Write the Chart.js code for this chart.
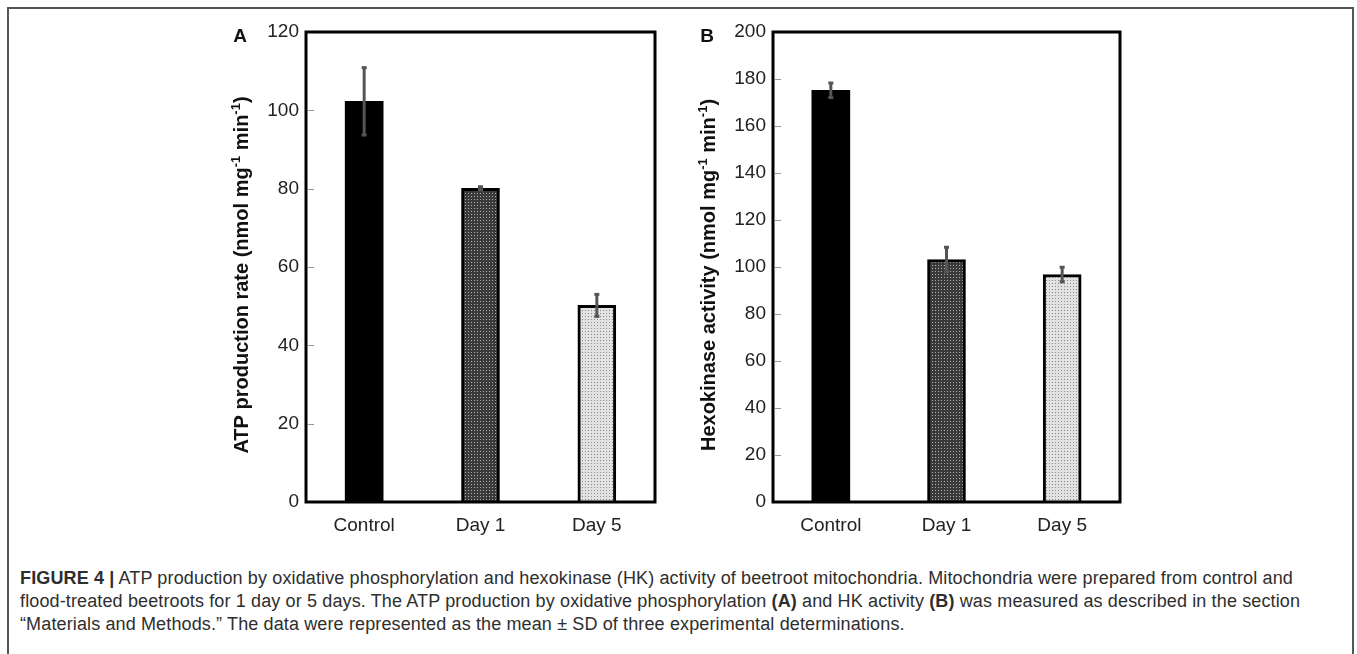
<!DOCTYPE html>
<html lang="en">
<head>
<meta charset="UTF-8">
<title>Figure 4</title>
<script src="https://cdn.jsdelivr.net/npm/chart.js"></script>
<style>
  body { margin: 0; background: #fff; width: 1357px; height: 654px; overflow: hidden; position: relative;
         font-family: "Liberation Sans", Arial, sans-serif; }
  #frame { position: absolute; left: 7px; top: 7px; width: 1347px; height: 700px; border: 2px solid #555; box-sizing: border-box; }
  .panel { position: absolute; top: 0; height: 545px; }
  #caption { position: absolute; left: 20px; top: 567px; font-size: 18px; letter-spacing: 0.13px; line-height: 23px; color: #2e2e2e; white-space: nowrap; }
</style>
</head>
<body>
<div id="frame"></div>
<div class="panel" style="left:200px;width:470px"><canvas id="chartA"></canvas></div>
<div class="panel" style="left:667px;width:468px"><canvas id="chartB"></canvas></div>
<div id="caption"><b>FIGURE 4 |</b> ATP production by oxidative phosphorylation and hexokinase (HK) activity of beetroot mitochondria. Mitochondria were prepared from control and<br>flood-treated beetroots for 1 day or 5 days. The ATP production by oxidative phosphorylation <b>(A)</b> and HK activity <b>(B)</b> was measured as described in the section<br>&ldquo;Materials and Methods.&rdquo; The data were represented as the mean &plusmn; SD of three experimental determinations.</div>

<script>
    const categories = ['Control', 'Day 1', 'Day 5'];

    // panel A: ATP production rate
    const atpMean = [102.3, 80.1, 50.2];
    const atpSD = [8.6, 0.4, 2.8];
    const atpMax = 120;

    // panel B: hexokinase activity
    const hkMean = [175.2, 103.2, 96.8];
    const hkSD = [3.1, 5.2, 3.1];
    const hkMax = 200;

    const tickStep = 20;

    // axis titles, [text, superscript?]
    const atpTitle = [['ATP production rate (nmol mg', false], ['-1', true], [' min', false], ['-1', true], [')', false]];
    const hkTitle = [['Hexokinase activity (nmol mg', false], ['-1', true], [' min', false], ['-1', true], [')', false]];

    const FONT = '"Liberation Sans", Arial, sans-serif';
    Chart.defaults.font.family = FONT;
    Chart.defaults.color = '#222';

    function dotPattern(ctx, bg, dot) {
        const c = document.createElement('canvas');
        c.width = 3; c.height = 3;
        const g = c.getContext('2d');
        g.fillStyle = bg;
        g.fillRect(0, 0, 3, 3);
        g.fillStyle = dot;
        g.fillRect(1, 1, 1, 1);
        return ctx.createPattern(c, 'repeat');
    }

    // error bars, inner tick marks, frame, panel letter and y title
    const decorPlugin = {
        id: 'decor',
        afterDatasetsDraw(chart, args, opts) {
            const ctx = chart.ctx;
            const y = chart.scales.y;
            const meta = chart.getDatasetMeta(0);
            const mean = chart.data.datasets[0].data;
            ctx.save();
            ctx.strokeStyle = '#555';
            ctx.lineWidth = 3;
            meta.data.forEach((bar, i) => {
                const top = y.getPixelForValue(mean[i] + opts.sd[i]);
                const bot = y.getPixelForValue(mean[i] - opts.sd[i]);
                ctx.beginPath();
                ctx.moveTo(bar.x, top);
                ctx.lineTo(bar.x, bot);
                ctx.stroke();
                ctx.fillStyle = '#555';
                ctx.fillRect(bar.x - 2.5, top - 1.5, 5, 3);
                ctx.fillRect(bar.x - 2.5, bot - 1.5, 5, 3);
            });
            ctx.restore();
        },
        afterDraw(chart, args, opts) {
            const ctx = chart.ctx;
            const a = chart.chartArea;
            const y = chart.scales.y;
            ctx.save();
            // small ticks just inside the left edge
            ctx.strokeStyle = '#999';
            ctx.lineWidth = 1;
            y.ticks.forEach(t => {
                if (t.value <= 0 || t.value >= y.max) return;
                const py = Math.round(y.getPixelForValue(t.value)) + 0.5;
                ctx.beginPath();
                ctx.moveTo(a.left + 2, py);
                ctx.lineTo(a.left + 8, py);
                ctx.stroke();
            });
            ctx.strokeStyle = '#000';
            ctx.lineWidth = 3;
            ctx.strokeRect(a.left, a.top, a.right - a.left, a.bottom - a.top);

            ctx.fillStyle = '#111';
            ctx.font = 'bold 19px ' + FONT;
            ctx.textAlign = 'center';
            ctx.textBaseline = 'middle';
            ctx.fillText(opts.letter, a.left - 66, a.top + 5);

            // rotated title with superscripts
            const big = 'bold 20px ' + FONT, small = 'bold 13px ' + FONT;
            let total = 0;
            opts.title.forEach(([t, sup]) => { ctx.font = sup ? small : big; total += ctx.measureText(t).width; });
            ctx.translate(a.left - 65, (a.top + a.bottom) / 2 + 8);
            ctx.rotate(-Math.PI / 2);
            ctx.textAlign = 'left';
            ctx.textBaseline = 'alphabetic';
            let x = -total / 2;
            opts.title.forEach(([t, sup]) => {
                ctx.font = sup ? small : big;
                ctx.fillText(t, x, sup ? -1 : 7);
                x += ctx.measureText(t).width;
            });
            ctx.restore();
        }
    };

    function makeChart(id, mean, sd, max, letter, title) {
        const canvas = document.getElementById(id);
        const ctx = canvas.getContext('2d');
        const fills = ['#000', dotPattern(ctx, '#3a3a3a', '#b0b0b0'), dotPattern(ctx, '#e2e2e2', '#8a8a8a')];
        return new Chart(canvas, {
            type: 'bar',
            data: {
                labels: categories,
                datasets: [{
                    data: mean,
                    backgroundColor: fills,
                    borderColor: '#000',
                    borderWidth: [0, 3, 3],
                    barThickness: 38
                }]
            },
            options: {
                responsive: true,
                maintainAspectRatio: false,
                animation: false,
                layout: { padding: { top: 32, right: 15, left: 0, bottom: 0 } },
                scales: {
                    x: {
                        grid: { display: false, drawTicks: false },
                        border: { display: false },
                        ticks: { font: { size: 19 }, color: '#222', padding: 12 },
                        afterFit(s) { s.height = 43; }
                    },
                    y: {
                        min: 0, max: max,
                        grid: { display: false, drawTicks: false },
                        border: { display: false },
                        ticks: { stepSize: tickStep, font: { size: 19 }, color: '#222', padding: 7 },
                        afterFit(s) { s.width = 106; }
                    }
                },
                plugins: {
                    legend: { display: false },
                    tooltip: { enabled: false },
                    decor: { sd: sd, letter: letter, title: title }
                }
            },
            plugins: [decorPlugin]
        });
    }

    makeChart('chartA', atpMean, atpSD, atpMax, 'A', atpTitle);
    makeChart('chartB', hkMean, hkSD, hkMax, 'B', hkTitle);
</script>
</body>
</html>
